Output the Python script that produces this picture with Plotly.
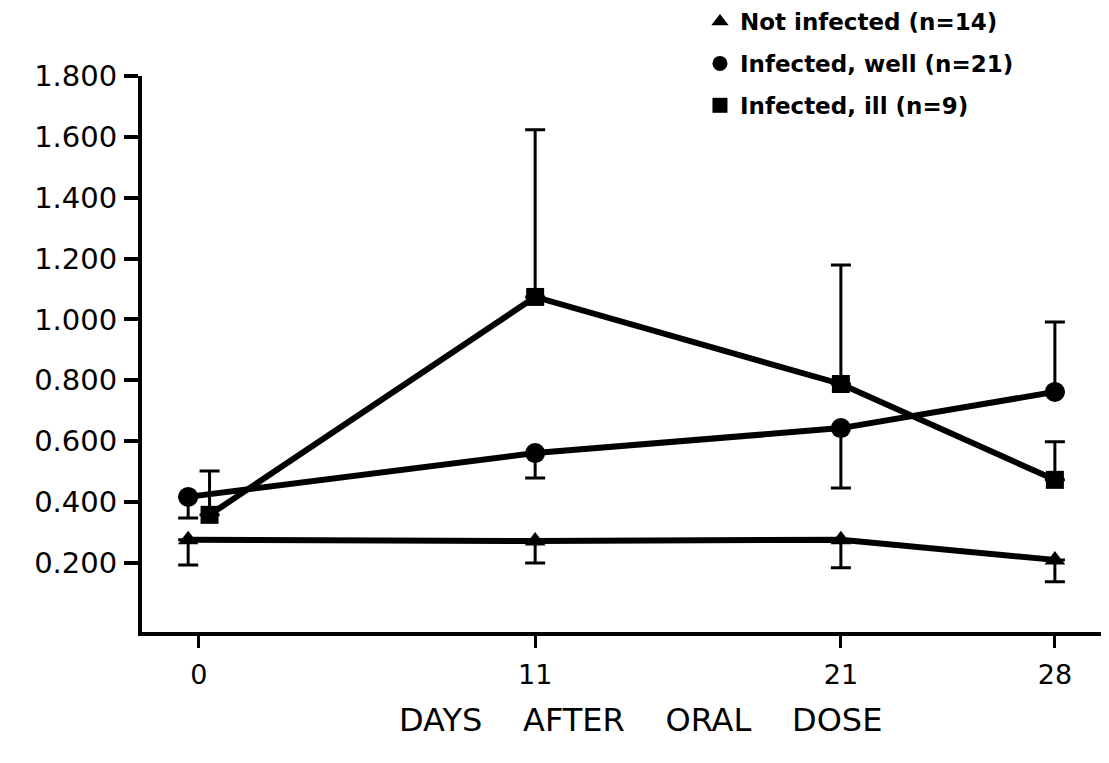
import plotly.graph_objects as go

# ---- data ----
days = [0, 11, 21, 28]
tick_labels = ["0", "11", "21", "28"]
y_ticks = [0.2, 0.4, 0.6, 0.8, 1.0, 1.2, 1.4, 1.6, 1.8]

not_infected = [0.276, 0.272, 0.276, 0.210]
not_infected_sd = [0.083, 0.072, 0.092, 0.072]

infected_well = [0.417, 0.561, 0.643, 0.762]
infected_well_sd = [0.069, 0.082, 0.197, 0.230]

infected_ill = [0.358, 1.074, 0.788, 0.473]
infected_ill_sd = [0.144, 0.549, 0.391, 0.125]

# error-bar direction drawn in the original (+1 up, -1 down)
not_infected_dir = [-1, -1, -1, -1]
infected_well_dir = [-1, -1, -1, 1]
infected_ill_dir = [1, 1, 1, 1]

labels = ["Not infected (n=14)", "Infected, well (n=21)", "Infected, ill (n=9)"]
x_title = "DAYS\u00a0\u00a0\u00a0\u00a0AFTER\u00a0\u00a0\u00a0\u00a0ORAL\u00a0\u00a0\u00a0\u00a0DOSE"

DODGE = 0.35  # small horizontal separation of overlapping day-0 points

def dodge(xs, s):
    return [d + (s * DODGE if d == 0 else 0) for d in xs]

def err(sd, dirs):
    plus = [v if d > 0 else 0 for v, d in zip(sd, dirs)]
    minus = [v if d < 0 else 0 for v, d in zip(sd, dirs)]
    return dict(type="data", symmetric=False, array=plus, arrayminus=minus,
                color="black", thickness=3, width=10)

fig = go.Figure()
series = [
    (not_infected, not_infected_sd, not_infected_dir, "triangle-up", 18, -1),
    (infected_well, infected_well_sd, infected_well_dir, "circle", 20, -1),
    (infected_ill, infected_ill_sd, infected_ill_dir, "square", 18, 1),
]
for vals, sd, dirs, sym, size, s in series:
    fig.add_trace(go.Scatter(
        x=dodge(days, s), y=vals, mode="lines+markers",
        line=dict(color="black", width=6),
        marker=dict(symbol=sym, size=size, color="black"),
        error_y=err(sd, dirs), showlegend=False, cliponaxis=False))

for i, ((vals, sd, dirs, sym, size, s), lab) in enumerate(zip(series, labels)):
    fig.add_trace(go.Scatter(
        x=[None], y=[None], mode="markers", name=lab, legendgroup=f"g{i}",
        marker=dict(symbol=sym, size=15, color="black"), showlegend=True))

FONT = "DejaVu Sans"
fig.update_layout(
    width=1101, height=755,
    margin=dict(l=134, r=0, t=68, b=131, autoexpand=False),
    paper_bgcolor="white", plot_bgcolor="white",
    font=dict(family=FONT, color="black"),
    showlegend=True,
    legend=dict(x=0.577, y=1.1366, xanchor="left", yanchor="top",
                font=dict(family=FONT, size=23, weight="bold", color="black"),
                tracegroupgap=9, traceorder="grouped",
                bgcolor="rgba(0,0,0,0)"),
    xaxis=dict(range=[-1.86, 29.77], tickmode="array", tickvals=days,
               ticktext=tick_labels, ticks="outside", ticklen=12, tickwidth=3,
               tickcolor="black", showline=True, linewidth=4, linecolor="black",
               showgrid=False, zeroline=False, ticklabelstandoff=4,
               tickfont=dict(family=FONT, size=27, color="black")),
    yaxis=dict(range=[-0.027, 1.8], tickmode="array", tickvals=y_ticks,
               tickformat=".3f", ticks="outside", ticklen=14, tickwidth=4,
               tickcolor="black", showline=True, linewidth=4, linecolor="black",
               showgrid=False, zeroline=False, ticklabelstandoff=1,
               tickfont=dict(family=FONT, size=29, color="black")),
    annotations=[dict(
        text=x_title,
        xref="paper", yref="paper", x=0.515, y=-0.158,
        xanchor="center", yanchor="middle", showarrow=False,
        font=dict(family=FONT, size=32, color="black"))],
)

fig.write_html("out.html")
